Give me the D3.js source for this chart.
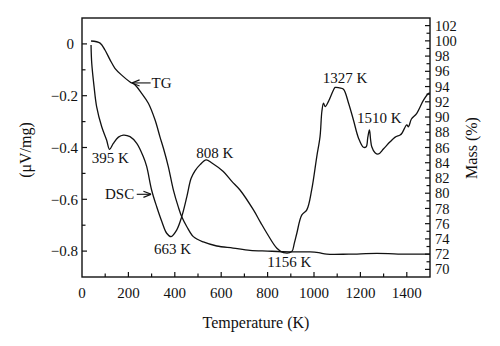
<!DOCTYPE html>
<html><head><meta charset="utf-8">
<script src="https://cdn.jsdelivr.net/npm/d3@7"></script>
<style>body{margin:0;background:#fff}svg{display:block}text{font-family:"Liberation Serif","Times New Roman",serif;fill:#111}</style>
</head><body><svg id="c" width="500" height="346"></svg>
<script>
// Temperature ticks
const xTicks = [0,200,400,600,800,1000,1200,1400];
const leftTicks = [0,-0.2,-0.4,-0.6,-0.8];
const rightTicks = [70,72,74,76,78,80,82,84,86,88,90,92,94,96,98,100,102];
// TG curve: [temperature, mass %]
const tgT = [39,78,99,121,142,171,207,229,257,286,315,336,351,372,394,415,430,452,480,523,581,651,724,800,897,983,1020,1055,1150,1271,1400,1500];
const tgM = [99.98,99.7,98.8,97.5,96.4,95.5,94.6,94.2,93.1,91.8,89.6,87.4,85.9,83.5,80.4,78.2,76.9,75.6,74.3,73.6,73.07,72.8,72.5,72.4,72.3,72.3,72.2,72.0,72.0,72.1,72.0,72.0];
// DSC curve: [temperature, µV/mg]
const dscT = [39,42,52,63,85,106,119,135,157,178,207,236,264,279,300,322,344,365,384,408,430,452,470,487,509,535,560,609,645,681,739,770,797,840,868,904,915,926,947,969,990,1012,1026,1034,1041,1048,1062,1084,1091,1110,1127,1149,1170,1192,1213,1225,1232,1239,1244,1249,1263,1278,1300,1328,1350,1371,1379,1400,1407,1420,1443,1472,1494,1500];
const dscV = [-0.004,-0.075,-0.165,-0.242,-0.32,-0.371,-0.407,-0.384,-0.36,-0.352,-0.358,-0.384,-0.435,-0.474,-0.564,-0.629,-0.686,-0.731,-0.744,-0.719,-0.667,-0.59,-0.52,-0.49,-0.466,-0.448,-0.46,-0.493,-0.53,-0.564,-0.641,-0.69,-0.731,-0.789,-0.806,-0.802,-0.77,-0.731,-0.661,-0.641,-0.564,-0.435,-0.358,-0.26,-0.229,-0.242,-0.223,-0.178,-0.168,-0.17,-0.175,-0.229,-0.294,-0.364,-0.399,-0.397,-0.36,-0.332,-0.37,-0.397,-0.42,-0.425,-0.405,-0.378,-0.36,-0.352,-0.345,-0.313,-0.32,-0.29,-0.268,-0.217,-0.191,-0.19];
// peak labels: [text, temperature, µV/mg at baseline]
const peakText = ["395 K","808 K","663 K","1156 K","1327 K","1510 K"];
const peakT = [42,492,310,799,1038,1185];
const peakV = [-0.46,-0.44,-0.811,-0.86,-0.151,-0.305];

const W=500,H=346,m={l:82,r:70,t:18,b:69};
const svg=d3.select("#c");
const x=d3.scaleLinear().domain([0,1500]).range([m.l,W-m.r]);
const yL=d3.scaleLinear().domain([-0.9,0.1]).range([H-m.b,m.t]);
const yR=d3.scaleLinear().domain([69,103]).range([H-m.b,m.t]);
const fs=15;

// frame
svg.append("rect").attr("x",m.l).attr("y",m.t).attr("width",W-m.l-m.r).attr("height",H-m.t-m.b)
  .attr("fill","none").attr("stroke","#111").attr("stroke-width",1.4);

// ticks (inward)
const tk=svg.append("g").attr("stroke","#111").attr("stroke-width",1.2);
d3.range(100,1500,100).forEach(v=>{
  const L = v%200===0?5:3.5;
  tk.append("line").attr("x1",x(v)).attr("x2",x(v)).attr("y1",H-m.b).attr("y2",H-m.b-L);
});
d3.range(-0.8,0.05,0.1).forEach(v=>{
  const major = Math.abs(Math.round(v*10))%2===0;
  const L = major?5:3.5;
  tk.append("line").attr("x1",m.l).attr("x2",m.l+L).attr("y1",yL(v)).attr("y2",yL(v));
});
d3.range(70,103,1).forEach(v=>{
  const L = v%2===0?5:3.5;
  tk.append("line").attr("x1",W-m.r).attr("x2",W-m.r-L).attr("y1",yR(v)).attr("y2",yR(v));
});

// tick labels
svg.append("g").selectAll("text").data(xTicks).join("text")
  .attr("x",d=>x(d)).attr("y",H-m.b+21).attr("text-anchor","middle").attr("font-size",fs).text(d=>d);
svg.append("g").selectAll("text").data(leftTicks).join("text")
  .attr("x",d=>d===0?m.l-8:m.l-4).attr("y",d=>yL(d)).attr("dy","0.35em").attr("text-anchor","end").attr("font-size",fs)
  .text(d=>d===0?"0":d3.format(".1f")(d).replace("-","\u2212"));
svg.append("g").selectAll("text").data(rightTicks).join("text")
  .attr("x",W-m.r+5).attr("y",d=>yR(d)).attr("dy","0.35em").attr("text-anchor","start").attr("font-size",14.5)
  .text(d=>d);

// axis titles
svg.append("text").attr("x",(m.l+W-m.r)/2).attr("y",328).attr("text-anchor","middle").attr("font-size",16).text("Temperature (K)");
svg.append("text").attr("transform",`translate(31,150) rotate(-90)`).attr("text-anchor","middle").attr("font-size",16).text("(\u03BCV/mg)");
svg.append("text").attr("transform",`translate(477,148) rotate(-90)`).attr("text-anchor","middle").attr("font-size",16).text("Mass (%)");

// curves
const tg=tgT.map((t,i)=>[t,tgM[i]]);
const dsc=dscT.map((t,i)=>[t,dscV[i]]);
svg.append("path").attr("d",d3.line().x(d=>x(d[0])).y(d=>yR(d[1])).curve(d3.curveCatmullRom)(tg))
  .attr("fill","none").attr("stroke","#111").attr("stroke-width",1.3);
svg.append("path").attr("d",d3.line().x(d=>x(d[0])).y(d=>yL(d[1])).curve(d3.curveCatmullRom)(dsc))
  .attr("fill","none").attr("stroke","#111").attr("stroke-width",1.3);

// peak labels
svg.append("g").selectAll("text").data(peakText).join("text")
  .attr("x",(d,i)=>x(peakT[i])).attr("y",(d,i)=>yL(peakV[i])).attr("font-size",fs).text(d=>d);

// TG and DSC arrows
const defs=svg.append("defs");
defs.append("marker").attr("id","ah").attr("viewBox","0 0 10 10").attr("refX",10).attr("refY",5)
  .attr("markerWidth",7).attr("markerHeight",7).attr("orient","auto-start-reverse")
  .append("path").attr("d","M0,1 L10,5 L0,9").attr("fill","none").attr("stroke","#111").attr("stroke-width",1.5);
const tgY=yL(-0.17)-5;
svg.append("line").attr("x1",x(300)-1).attr("x2",x(215)).attr("y1",tgY).attr("y2",tgY)
  .attr("stroke","#111").attr("stroke-width",1.1).attr("marker-end","url(#ah)");
svg.append("text").attr("x",x(300)).attr("y",yL(-0.17)).attr("font-size",fs).text("TG");
const dscY=yL(-0.60)-5;
svg.append("text").attr("x",x(99)).attr("y",yL(-0.60)).attr("font-size",fs).text("DSC");
svg.append("line").attr("x1",x(236)).attr("x2",x(298)).attr("y1",dscY).attr("y2",dscY)
  .attr("stroke","#111").attr("stroke-width",1.1).attr("marker-end","url(#ah)");
</script></body></html>
